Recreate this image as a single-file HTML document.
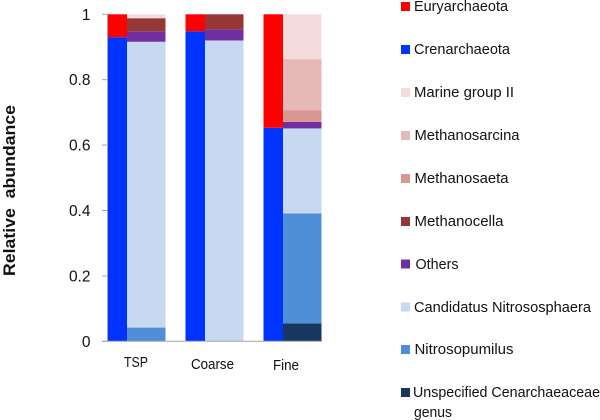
<!DOCTYPE html>
<html>
<head>
<meta charset="utf-8">
<style>
html,body{margin:0;padding:0;background:#fff;}
svg{display:block;font-family:"Liberation Sans",sans-serif;}
text{fill:#111;}
</style>
</head>
<body>
<svg id="chart" width="600" height="420" viewBox="0 0 600 420" xmlns="http://www.w3.org/2000/svg">
  <text transform="translate(15,190.5) rotate(-90)" text-anchor="middle" font-size="17" font-weight="bold" textLength="171" lengthAdjust="spacingAndGlyphs" style="white-space:pre">Relative  abundance</text>
  <g id="marks"></g>
  <g id="axes"></g>
  <g font-size="15">
    <g><rect x="401" y="2" width="9" height="9" fill="#ff0000"/><text x="414" y="11" textLength="94" lengthAdjust="spacingAndGlyphs">Euryarchaeota</text></g>
    <g><rect x="401" y="45" width="9" height="9" fill="#0033ff"/><text x="414" y="54" textLength="96" lengthAdjust="spacingAndGlyphs">Crenarchaeota</text></g>
    <g><rect x="401" y="88" width="9" height="9" fill="#f4dcdc"/><text x="414" y="97" textLength="100" lengthAdjust="spacingAndGlyphs">Marine group II</text></g>
    <g><rect x="401" y="131" width="9" height="9" fill="#e6b8b7"/><text x="414.5" y="140" textLength="105" lengthAdjust="spacingAndGlyphs">Methanosarcina</text></g>
    <g><rect x="401" y="174" width="9" height="9" fill="#d99694"/><text x="414.5" y="183" textLength="94" lengthAdjust="spacingAndGlyphs">Methanosaeta</text></g>
    <g><rect x="401" y="217" width="9" height="9" fill="#953735"/><text x="414.5" y="226" textLength="89" lengthAdjust="spacingAndGlyphs">Methanocella</text></g>
    <g><rect x="401" y="259.5" width="9" height="9" fill="#7030a0"/><text x="415.5" y="269" textLength="43" lengthAdjust="spacingAndGlyphs">Others</text></g>
    <g><rect x="401" y="302.5" width="9" height="9" fill="#c6d9f1"/><text x="414" y="312" textLength="177" lengthAdjust="spacingAndGlyphs">Candidatus Nitrososphaera</text></g>
    <g><rect x="401" y="345" width="9" height="9" fill="#4f8fd8"/><text x="414.5" y="354" textLength="99" lengthAdjust="spacingAndGlyphs">Nitrosopumilus</text></g>
    <g><rect x="401" y="388" width="9" height="9" fill="#17375e"/><text x="413" y="397" textLength="187" lengthAdjust="spacingAndGlyphs">Unspecified Cenarchaeaceae</text><text x="414" y="417" textLength="38" lengthAdjust="spacingAndGlyphs">genus</text></g>
  </g>
</svg>
<script>
const categories = ["TSP", "Coarse", "Fine"];
const tickLabels = ["0", "0.2", "0.4", "0.6", "0.8", "1"];
const euryarchaeota = [0.07, 0.052, 0.347];
const crenarchaeota = [0.93, 0.948, 0.653];
const unspecifiedCenarchaeaceae = [0, 0, 0.055];
const nitrosopumilus = [0.042, 0, 0.336];
const candidatusNitrososphaera = [0.874, 0.92, 0.26];
const others = [0.032, 0.034, 0.02];
const methanocella = [0.04, 0.046, 0];
const methanosaeta = [0, 0, 0.036];
const methanosarcina = [0, 0, 0.156];
const marineGroupII = [0.012, 0, 0.137];

const NS = "http://www.w3.org/2000/svg";
const marks = document.getElementById("marks");
const axes = document.getElementById("axes");
const y = v => 341.3 - v * 327;
const bandX = i => 107.5 + i * 78;
const PHYLUM_W = 19.5;
const GENUS_W = 38.5;
const labelBaselines = [367, 369, 370];
const labelCenters = [136, 212.5, 286];
const labelWidths = [24, 43, 26];

function drawStack(i, x, w, layers, prefix) {
  let acc = 0;
  layers.forEach(function (layer) {
    const v = layer.values[i];
    if (v <= 0) return;
    const r = document.createElementNS(NS, "rect");
    
    
    r.setAttribute("x", x);
    r.setAttribute("width", w);
    r.setAttribute("y", y(acc + v));
    r.setAttribute("height", y(acc) - y(acc + v));
    r.setAttribute("fill", layer.color);
    marks.appendChild(r);
    acc += v;
  });
}

const phylumLayers = [
  { name: "crenarchaeota", values: crenarchaeota, color: "#0033ff" },
  { name: "euryarchaeota", values: euryarchaeota, color: "#ff0000" }
];
const genusLayers = [
  { name: "unspecified-cenarchaeaceae", values: unspecifiedCenarchaeaceae, color: "#17375e" },
  { name: "nitrosopumilus", values: nitrosopumilus, color: "#4f8fd8" },
  { name: "candidatus-nitrososphaera", values: candidatusNitrososphaera, color: "#c6d9f1" },
  { name: "others", values: others, color: "#7030a0" },
  { name: "methanocella", values: methanocella, color: "#953735" },
  { name: "methanosaeta", values: methanosaeta, color: "#d99694" },
  { name: "methanosarcina", values: methanosarcina, color: "#e6b8b7" },
  { name: "marine-group-ii", values: marineGroupII, color: "#f4dcdc" }
];

categories.forEach(function (cat, i) {
  drawStack(i, bandX(i), PHYLUM_W, phylumLayers, "phylum");
  drawStack(i, bandX(i) + PHYLUM_W, GENUS_W, genusLayers, "genus");

  const t = document.createElementNS(NS, "text");
  
  
  t.setAttribute("x", labelCenters[i]);
  t.setAttribute("y", labelBaselines[i]);
  t.setAttribute("text-anchor", "middle");
  t.setAttribute("font-size", "14.5");
  t.setAttribute("textLength", labelWidths[i]);
  t.setAttribute("lengthAdjust", "spacingAndGlyphs");
  t.textContent = cat;
  axes.appendChild(t);
});

const yLine = document.createElementNS(NS, "line");


yLine.setAttribute("x1", 107.5);
yLine.setAttribute("x2", 107.5);
yLine.setAttribute("y1", y(1));
yLine.setAttribute("y2", y(0));
yLine.setAttribute("stroke", "#a6a6a6");
yLine.setAttribute("stroke-width", "1");
axes.appendChild(yLine);

const xLine = document.createElementNS(NS, "line");


xLine.setAttribute("x1", 102);
xLine.setAttribute("x2", 322);
xLine.setAttribute("y1", y(0));
xLine.setAttribute("y2", y(0));
xLine.setAttribute("stroke", "#a6a6a6");
xLine.setAttribute("stroke-width", "1");
axes.appendChild(xLine);

tickLabels.forEach(function (label) {
  const v = parseFloat(label);
  const tick = document.createElementNS(NS, "line");
  
  
  tick.setAttribute("x1", 102);
  tick.setAttribute("x2", 107.5);
  tick.setAttribute("y1", y(v));
  tick.setAttribute("y2", y(v));
  tick.setAttribute("stroke", "#a6a6a6");
  tick.setAttribute("stroke-width", "1");
  axes.appendChild(tick);

  const t = document.createElementNS(NS, "text");
  
  
  t.setAttribute("x", 90.5);
  t.setAttribute("y", y(v) + 5.5);
  t.setAttribute("text-anchor", "end");
  t.setAttribute("font-size", "15.5");
  t.textContent = label;
  axes.appendChild(t);
});
</script>
</body>
</html>
